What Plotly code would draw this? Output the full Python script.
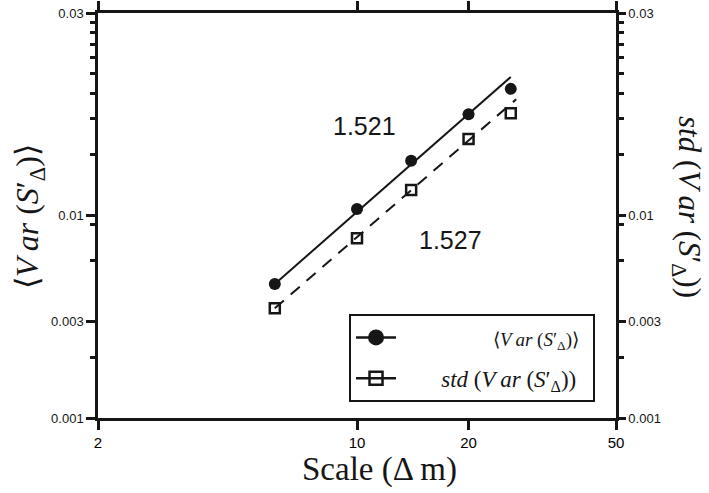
import plotly.graph_objects as go

# Scale in metres and the two statistics of the variance
scale = [6, 10, 14, 20, 26]
var_mean = [0.00459, 0.01077, 0.01865, 0.0316, 0.0422]
var_std = [0.00348, 0.00772, 0.01337, 0.02388, 0.0320]

# Power-law fit lines (end points)
mean_fit_x = [6, 26]
mean_fit_y = [0.00459, 0.0483]
std_fit_x = [6, 26.9]
std_fit_y = [0.00348, 0.0375]

# Fitted exponents
slope_labels = ["1.521", "1.527"]

x_ticks = [2, 10, 20, 50]
x_ticktext = ["2", "10", "20", "50"]
y_ticks = [0.001, 0.003, 0.01, 0.1]
y_ticktext = ["0.001", "0.003", "0.01", "0.03"]
y_minor = [0.002, 0.006, 0.009, 0.02, 0.03, 0.04, 0.05, 0.06, 0.07, 0.08, 0.09]

INK = "#161616"
SERIF = "Liberation Serif"
SANS = "Liberation Sans"
NB = "\u00a0"
TH = "\u2009"

mean_name = f"⟨<i>V{TH}ar</i> (<i>S</i>′<sub>Δ</sub>)⟩"
std_name = f"<i>std</i> (<i>V{TH}ar</i> (<i>S</i>′<sub>Δ</sub>))"

fig = go.Figure()

fig.add_trace(go.Scatter(x=mean_fit_x, y=mean_fit_y, mode="lines",
                         line=dict(color=INK, width=2), showlegend=False))
fig.add_trace(go.Scatter(x=std_fit_x, y=std_fit_y, mode="lines",
                         line=dict(color=INK, width=2, dash="12px,9px"), showlegend=False))
fig.add_trace(go.Scatter(x=scale, y=var_mean, mode="markers",
                         marker=dict(symbol="circle", size=12, color=INK),
                         showlegend=False))
fig.add_trace(go.Scatter(x=scale, y=var_std, mode="markers",
                         marker=dict(symbol="square-open", size=10, color=INK,
                                     line=dict(width=2.5, color=INK)),
                         showlegend=False))

# Legend entries
fig.add_trace(go.Scatter(x=[None], y=[None], mode="lines+markers",
                         name=NB * 16 + f'<span style="font-size:19px">{mean_name}</span>',
                         legendgroup="a",
                         line=dict(color=INK, width=2.5),
                         marker=dict(symbol="circle", size=16, color=INK)))
fig.add_trace(go.Scatter(x=[None], y=[None], mode="lines+markers",
                         name=NB * 7 + std_name + NB * 2, legendgroup="b",
                         line=dict(color=INK, width=2.5),
                         marker=dict(symbol="square-open", size=13, color=INK,
                                     line=dict(width=2.5, color=INK)),
                         yaxis="y2"))

axis_common = dict(
    type="log", showgrid=False, zeroline=False, automargin=False,
    showline=True, linecolor=INK, linewidth=2.5,
    ticks="outside", tickcolor=INK, tickwidth=2.5, ticklen=9,
)

fig.update_layout(
    width=709, height=493,
    margin=dict(l=98, r=93, t=13, b=75, autoexpand=False),
    paper_bgcolor="white", plot_bgcolor="white",
    showlegend=True,
    xaxis=dict(axis_common, range=[0.30103, 1.69897], mirror="ticks",
               tickvals=x_ticks, ticktext=x_ticktext,
               tickfont=dict(family=SANS, size=15, color="#000")),
    yaxis=dict(axis_common, range=[-3, -1], mirror=False,
               tickvals=y_ticks, ticktext=y_ticktext,
               tickfont=dict(family=SANS, size=13, color=INK),
               minor=dict(tickvals=y_minor, ticks="outside", ticklen=5,
                          tickwidth=2.5, tickcolor=INK)),
    yaxis2=dict(axis_common, range=[-3, -1], overlaying="y", side="right",
                ticklen=7,
                tickvals=y_ticks, ticktext=y_ticktext,
                tickfont=dict(family=SANS, size=13, color=INK),
                minor=dict(tickvals=y_minor, ticks="outside", ticklen=5,
                           tickwidth=2.5, tickcolor=INK)),
    legend=dict(x=0.4846, y=0.2568, xanchor="left", yanchor="top",
                bgcolor="white", bordercolor=INK, borderwidth=2,
                font=dict(family=SERIF, size=23, color=INK),
                traceorder="grouped", tracegroupgap=8, itemwidth=40),
)

fig.add_annotation(x=1.019, y=-1.558, xref="x", yref="y", text=slope_labels[0],
                   showarrow=False, xanchor="center", yanchor="middle",
                   font=dict(family=SANS, size=25, color=INK))
fig.add_annotation(x=1.251, y=-2.121, xref="x", yref="y", text=slope_labels[1],
                   showarrow=False, xanchor="center", yanchor="middle",
                   font=dict(family=SANS, size=25, color=INK))

fig.add_annotation(x=-0.133, y=0.496, xref="paper", yref="paper", text=mean_name,
                   textangle=-90, showarrow=False, xanchor="center", yanchor="middle",
                   font=dict(family=SERIF, size=32, color=INK))
fig.add_annotation(x=1.137, y=0.521, xref="paper", yref="paper", text=std_name,
                   textangle=90, showarrow=False, xanchor="center", yanchor="middle",
                   font=dict(family=SERIF, size=31, color=INK))
fig.add_annotation(x=0.544, y=-0.128, xref="paper", yref="paper",
                   text="Scale (Δ m)", showarrow=False, xanchor="center", yanchor="middle",
                   font=dict(family=SERIF, size=33, color=INK))

fig.write_html("out.html")
